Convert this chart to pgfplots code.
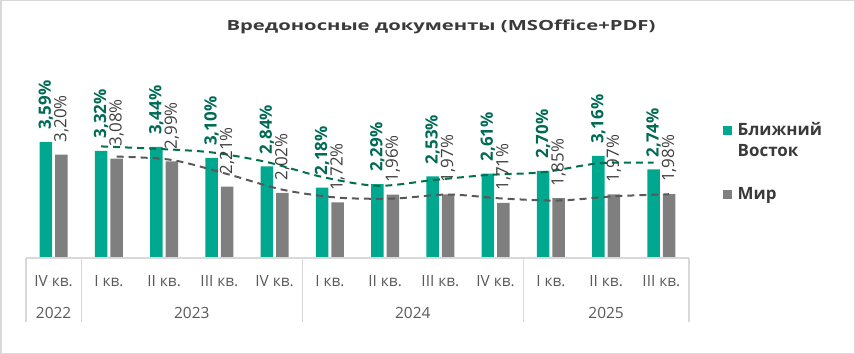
\documentclass[border=0pt]{standalone}
\usepackage{fontspec}
\setmainfont{Open Sans}
\newfontfamily\titlefont[FakeStretch=1.45]{Open Sans}
\usepackage{pgfplots}
\pgfplotsset{compat=1.18}
\definecolor{barG}{HTML}{00A88F}
\definecolor{barM}{HTML}{7F7F7F}
\definecolor{labG}{HTML}{006B55}
\definecolor{labM}{HTML}{404040}
\definecolor{trendG}{HTML}{00704F}
\definecolor{trendM}{HTML}{595959}
\definecolor{tickc}{HTML}{595959}
\definecolor{titlec}{HTML}{3A3A3A}
\definecolor{framec}{HTML}{D9D9D9}
\begin{document}
\begin{tikzpicture}
\useasboundingbox (0,0) rectangle (855bp,354bp);
\draw[framec, line width=1.5bp] (0.75bp,0.75bp) rectangle (854.25bp,353.25bp);
\node[font=\titlefont\bfseries\fontsize{14}{16}\selectfont, text=titlec, anchor=base] at (441bp,323.3bp) {Вредоносные документы (MSOffice+PDF)};
\begin{axis}[
  at={(26bp,96bp)}, anchor=south west,
  scale only axis, width=663bp, height=177.65bp,
  xmin=-0.5, xmax=11.5, ymin=0, ymax=5.5,
  clip=false,
  axis line style={draw=none},
  ytick=\empty,
  xtick={0,...,11},
  xticklabels={IV кв., I кв., II кв., III кв., IV кв., I кв., II кв., III кв., IV кв., I кв., II кв., III кв.},
  major tick length=0pt,
  xticklabel style={font=\fontsize{15.5}{18}\selectfont, text=tickc, anchor=base, yshift=-28.7bp},
  /pgf/number format/.cd, fixed, fixed zerofill, precision=2, use comma, assume math mode=true,
  /pgfplots/.cd,
  legend style={at={(1.0513,0.776)}, anchor=north west, draw=none, fill=none, inner sep=0pt,
    font=\bfseries\fontsize{17}{21}\selectfont, text=titlec,
    cells={anchor=base west, align=left}, row sep=25bp, /tikz/column sep=4bp},
]
\addplot[ybar, bar width=12.5bp, bar shift=-7.8bp, fill=barG, draw=none,
  nodes near coords={\rotatebox{90}{\pgfmathprintnumber{\pgfplotspointmeta}\%}},
  nodes near coords style={anchor=south, inner sep=0pt, xshift=-7.8bp, yshift=12bp, text=labG, font=\bfseries\fontsize{17}{20}\selectfont},
  legend image code/.code={\fill[barG] (0bp,21.5bp) rectangle (8.5bp,30.5bp);}]
coordinates {(0,3.59) (1,3.32) (2,3.44) (3,3.10) (4,2.84) (5,2.18) (6,2.29) (7,2.53) (8,2.61) (9,2.70) (10,3.16) (11,2.74)};
\addlegendentry{Ближний\\Восток}
\addplot[ybar, bar width=12.5bp, bar shift=7.8bp, fill=barM, draw=none,
  nodes near coords={\rotatebox{90}{\pgfmathprintnumber{\pgfplotspointmeta}\%}},
  nodes near coords style={anchor=south, inner sep=0pt, xshift=7.8bp, yshift=12bp, text=labM, font=\fontsize{17}{20}\selectfont},
  legend image code/.code={\fill[barM] (0bp,0.5bp) rectangle (8.5bp,9.5bp);}]
coordinates {(0,3.20) (1,3.08) (2,2.99) (3,2.21) (4,2.02) (5,1.72) (6,1.96) (7,1.97) (8,1.71) (9,1.85) (10,1.97) (11,1.98)};
\addlegendentry{Мир}
% two-period moving averages (trendlines)
\addplot[forget plot, smooth, tension=0.5, trendG, line width=2bp, dash pattern=on 7bp off 5bp, mark=none]
coordinates {(0.859,3.455) (1.859,3.38) (2.859,3.27) (3.859,2.97) (4.859,2.51) (5.859,2.235) (6.859,2.41) (7.859,2.57) (8.859,2.655) (9.859,2.93) (10.859,2.95)};
\addplot[forget plot, smooth, tension=0.5, trendM, line width=2bp, dash pattern=on 7bp off 5bp, mark=none]
coordinates {(1.141,3.14) (2.141,3.035) (3.141,2.60) (4.141,2.115) (5.141,1.87) (6.141,1.84) (7.141,1.965) (8.141,1.84) (9.141,1.78) (10.141,1.91) (11.141,1.975)};
\draw[framec, line width=1.5bp] (axis cs:-0.5,0) -- (axis cs:11.5,0);
\draw[framec, line width=1.5bp] (axis cs:-0.5,0) -- ([yshift=-64bp]axis cs:-0.5,0);
\draw[framec, line width=1.5bp] (axis cs:0.5,0) -- ([yshift=-64bp]axis cs:0.5,0);
\draw[framec, line width=1.5bp] (axis cs:4.5,0) -- ([yshift=-64bp]axis cs:4.5,0);
\draw[framec, line width=1.5bp] (axis cs:8.5,0) -- ([yshift=-64bp]axis cs:8.5,0);
\draw[framec, line width=1.5bp] (axis cs:11.5,0) -- ([yshift=-64bp]axis cs:11.5,0);
\node[anchor=base, font=\fontsize{15.5}{18}\selectfont, text=tickc] at ([yshift=-60.3bp]axis cs:0,0) {2022};
\node[anchor=base, font=\fontsize{15.5}{18}\selectfont, text=tickc] at ([yshift=-60.3bp]axis cs:2.5,0) {2023};
\node[anchor=base, font=\fontsize{15.5}{18}\selectfont, text=tickc] at ([yshift=-60.3bp]axis cs:6.5,0) {2024};
\node[anchor=base, font=\fontsize{15.5}{18}\selectfont, text=tickc] at ([yshift=-60.3bp]axis cs:10,0) {2025};
\end{axis}
\end{tikzpicture}
\end{document}
